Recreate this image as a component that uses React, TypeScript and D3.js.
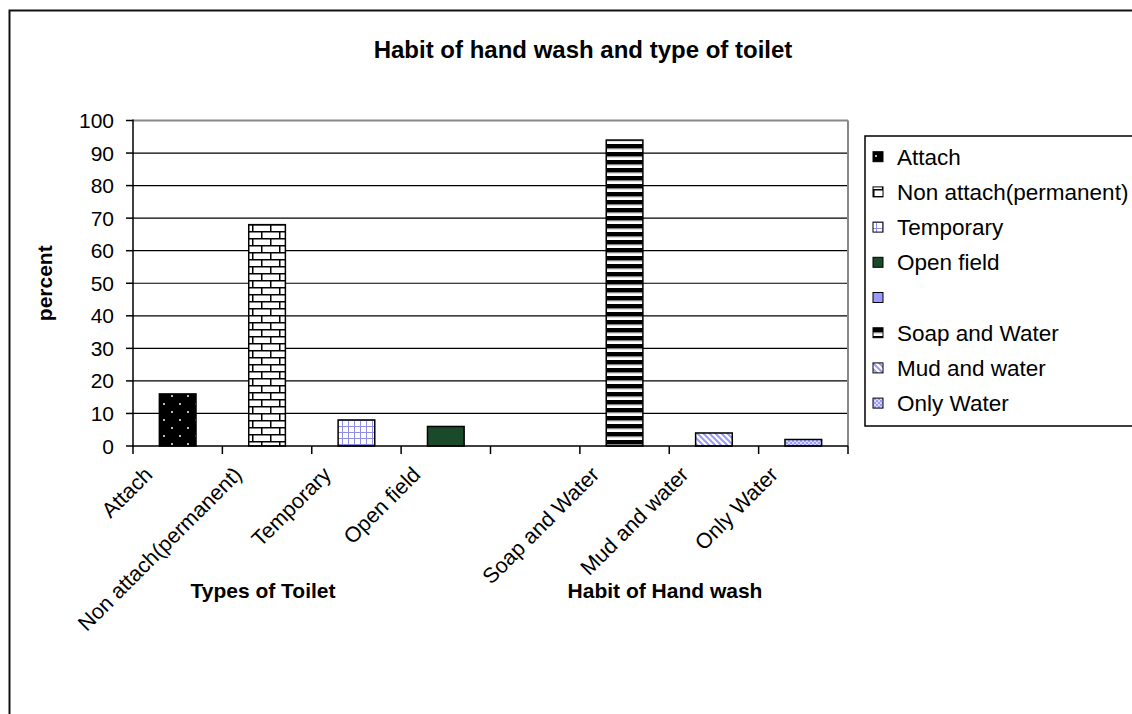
import React from "react";
import * as d3 from "d3";

const categories = ["Attach", "Non attach(permanent)", "Temporary", "Open field", "", "Soap and Water", "Mud and water", "Only Water"];
const values = [16, 68, 8, 6, 0, 94, 4, 2];
const yTicks = [0, 10, 20, 30, 40, 50, 60, 70, 80, 90, 100];
const groupLabels = ["Types of Toilet", "Habit of Hand wash"];
const groupCenters = [263, 665];
const fillIds = ["pAttach", "pBrick", "pGrid", "#1b4a2b", "#9999ff", "pStripe", "pDiag", "pCheck"];

const FONT = "'Liberation Sans', Arial, sans-serif";
const W = 1132, H = 714;
const L = 133, R = 848, T = 120.5, B = 446;

function fillOf(i: number) {
  const f = fillIds[i];
  return f.startsWith("#") ? f : `url(#${f})`;
}

export default function App() {
  const x = d3.scaleBand<number>().domain(categories.map((_, i) => i)).range([L, R]).paddingInner(0).paddingOuter(0);
  const y = d3.scaleLinear().domain([0, 100]).range([B, T]);
  const bw = x.bandwidth() * 0.41;
  const legendX = 865;
  const legendY = 136;
  const step = 35.2;

  return (
    <svg width={W} height={H} style={{ position: "absolute", left: 0, top: 0, background: "#fff" }} fontFamily={FONT}>
      <defs>
        <pattern id="pAttach" width={16} height={16} patternUnits="userSpaceOnUse">
          <rect width={16} height={16} fill="#000" />
          <rect x={3} y={3} width={2} height={2} fill="#bbb" />
          <rect x={11} y={11} width={2} height={2} fill="#bbb" />
        </pattern>
        <pattern id="pBrick" width={18} height={14} patternUnits="userSpaceOnUse">
          <rect width={18} height={14} fill="#fff" />
          <line x1={0} x2={18} y1={0.75} y2={0.75} stroke="#000" strokeWidth={1.5} />
          <line x1={0} x2={18} y1={7.75} y2={7.75} stroke="#000" strokeWidth={1.5} />
          <line x1={0.75} x2={0.75} y1={0} y2={7} stroke="#000" strokeWidth={1.5} />
          <line x1={9.75} x2={9.75} y1={7} y2={14} stroke="#000" strokeWidth={1.5} />
        </pattern>
        <pattern id="pGrid" width={6} height={6} patternUnits="userSpaceOnUse">
          <rect width={6} height={6} fill="#fff" />
          <line x1={0} x2={6} y1={0.5} y2={0.5} stroke="#8f8fe8" strokeWidth={1} />
          <line x1={0.5} x2={0.5} y1={0} y2={6} stroke="#8f8fe8" strokeWidth={1} />
        </pattern>
        <pattern id="pStripe" width={8} height={8} patternUnits="userSpaceOnUse">
          <rect width={8} height={8} fill="#fff" />
          <rect y={0} width={8} height={4.5} fill="#000" />
          <rect y={4.5} width={8} height={0.8} fill="#888" />
        </pattern>
        <pattern id="pDiag" width={6} height={6} patternUnits="userSpaceOnUse">
          <rect width={6} height={6} fill="#fff" />
          <path d="M-1,-1 L7,7 M-4,2 L2,8 M4,-2 L10,4" stroke="#9999ff" strokeWidth={2} />
        </pattern>
        <pattern id="pCheck" width={4} height={4} patternUnits="userSpaceOnUse">
          <rect width={4} height={4} fill="#d8d8ff" />
          <rect width={2} height={2} fill="#9999ff" />
          <rect x={2} y={2} width={2} height={2} fill="#9999ff" />
        </pattern>
      </defs>

      {/* outer chart border */}
      <rect x={9.5} y={10.5} width={1200} height={800} fill="none" stroke="#111" strokeWidth={2} />

      {/* title */}
      <text x={583} y={58} textAnchor="middle" fontSize={24} fontWeight="bold">Habit of hand wash and type of toilet</text>

      {/* gridlines */}
      {yTicks.filter(t => t > 0 && t < 100).map(t => (
        <line key={t} x1={L} x2={R} y1={y(t)} y2={y(t)} stroke="#000" strokeWidth={1.2} />
      ))}
      {/* plot area border top/right */}
      <line x1={L} x2={R} y1={T} y2={T} stroke="#888" strokeWidth={2} />
      <line x1={R} x2={R} y1={T} y2={B} stroke="#888" strokeWidth={2} />

      {/* bars */}
      {values.map((v, i) => v > 0 ? (
        <rect key={i} x={(x(i) as number) + (x.bandwidth() - bw) / 2} y={y(v)} width={bw} height={B - y(v)}
          fill={fillOf(i)} stroke="#000" strokeWidth={1.5} />
      ) : null)}

      {/* y axis */}
      <line x1={L} x2={L} y1={T - 1} y2={B + 1} stroke="#000" strokeWidth={1.5} />
      {yTicks.map(t => (
        <g key={t}>
          <line x1={L - 7} x2={L} y1={y(t)} y2={y(t)} stroke="#000" strokeWidth={1.5} />
          <text x={L - 19} y={y(t)} dy="0.36em" textAnchor="end" fontSize={21}>{t}</text>
        </g>
      ))}

      {/* x axis */}
      <line x1={L} x2={R} y1={B} y2={B} stroke="#000" strokeWidth={1.5} />
      {d3.range(categories.length + 1).map(k => {
        const xx = L + k * x.bandwidth();
        return <line key={k} x1={xx} x2={xx} y1={B} y2={B + 8} stroke="#000" strokeWidth={1.5} />;
      })}
      {categories.map((c, i) => {
        const cx = (x(i) as number) + x.bandwidth() / 2;
        return (
          <text key={i} transform={`translate(${cx - 24},${B + 30}) rotate(-45)`} textAnchor="end" fontSize={21.5}>{c}</text>
        );
      })}

      {/* axis titles */}
      <text transform={`translate(52,${(T + B) / 2}) rotate(-90)`} textAnchor="middle" fontSize={21} fontWeight="bold">percent</text>
      {groupLabels.map((g, i) => (
        <text key={g} x={groupCenters[i]} y={598} textAnchor="middle" fontSize={21} fontWeight="bold">{g}</text>
      ))}

      {/* legend */}
      <rect x={legendX} y={legendY} width={400} height={290} fill="#fff" stroke="#000" strokeWidth={1.5} />
      {categories.map((c, i) => {
        const cy = legendY + 20.7 + i * step;
        return (
          <g key={i}>
            <rect x={legendX + 8} y={cy - 5} width={10} height={10} fill={fillOf(i)} stroke="#000" strokeWidth={1} />
            <text x={legendX + 32} y={cy} dy="0.36em" fontSize={22.5}>{c}</text>
          </g>
        );
      })}
    </svg>
  );
}
